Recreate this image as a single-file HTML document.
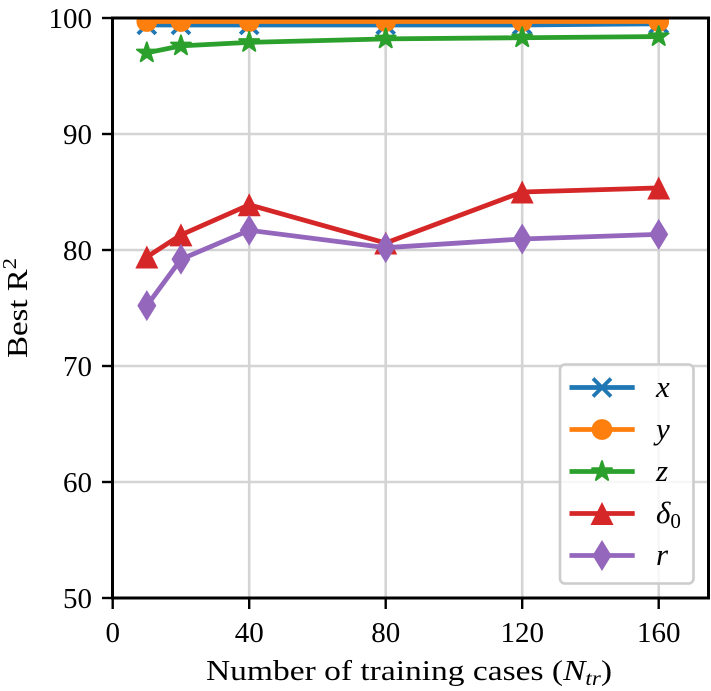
<!DOCTYPE html>
<html lang="en">
<head>
<meta charset="utf-8">
<title>Best R2 vs number of training cases</title>
<style>
html,body{margin:0;padding:0;background:#fff;}
svg{display:block;font-family:"Liberation Serif",serif;fill:#000;}
</style>
</head>
<body>
<svg id="chart" xmlns="http://www.w3.org/2000/svg" width="711" height="691" viewBox="0 0 711 691">
  <defs><clipPath id="plot-clip"><rect x="112.5" y="18" width="596" height="580"/></clipPath></defs>
  <rect width="711" height="691" fill="#fff"/>
  <g id="grid"></g>
  <g id="series" clip-path="url(#plot-clip)"></g>
  <rect x="112.5" y="18" width="596" height="580" fill="none" stroke="#000" stroke-width="3"/>
  <g id="ticks"></g>
  <g id="legend">
    <rect x="560" y="364.5" width="133.5" height="219" rx="5" fill="#fff" fill-opacity="0.8" stroke="#cccccc" stroke-width="2.6"/>
  </g>
  <text x="409" y="680" font-size="29" text-anchor="middle" textLength="406" lengthAdjust="spacingAndGlyphs">Number of training cases (<tspan font-style="italic">N</tspan><tspan font-style="italic" font-size="20" dy="5">tr</tspan><tspan dy="-5">)</tspan></text>
  <text transform="translate(27,358) rotate(-90)" font-size="29" textLength="100" lengthAdjust="spacingAndGlyphs">Best R<tspan font-size="20" dy="-11">2</tspan></text>
</svg>
<script>
const categories = [10, 20, 40, 80, 120, 160];
const seriesX = [99.4, 99.4, 99.4, 99.4, 99.4, 99.5];
const seriesY = [99.7, 99.7, 99.7, 99.7, 99.7, 99.7];
const seriesZ = [97.0, 97.6, 97.9, 98.2, 98.3, 98.4];
const seriesDelta = [79.4, 81.3, 83.9, 80.6, 85.0, 85.35];
const seriesR = [75.2, 79.2, 81.7, 80.2, 80.95, 81.35];
const xTickLabels = [0, 40, 80, 120, 160];
const yTickLabels = [50, 60, 70, 80, 90, 100];

const NS = 'http://www.w3.org/2000/svg';
const xScale = v => 112.7 + (v - 0) * 3.4125;
const yScale = v => 598 - (v - 50) * 11.6;

function make(tag, attrs, parent) {
  const el = document.createElementNS(NS, tag);
  for (const k in attrs) el.setAttribute(k, attrs[k]);
  parent.appendChild(el);
  return el;
}

function starPoints(cx, cy, r) {
  const pts = [];
  for (let i = 0; i < 10; i++) {
    const rad = i % 2 ? r * 0.382 : r;
    const a = -Math.PI / 2 + i * Math.PI / 5;
    pts.push((cx + rad * Math.cos(a)).toFixed(2) + ',' + (cy + rad * Math.sin(a)).toFixed(2));
  }
  return pts.join(' ');
}

function drawMarker(kind, cx, cy, color, parent) {
  if (kind === 'x') {
    return make('path', {d: `M${cx-9} ${cy-9}L${cx+9} ${cy+9}M${cx-9} ${cy+9}L${cx+9} ${cy-9}`, fill: 'none', stroke: color, 'stroke-width': 3.8}, parent);
  }
  if (kind === 'circle') {
    return make('circle', {cx: cx, cy: cy, r: 10.4, fill: color}, parent);
  }
  if (kind === 'star') {
    return make('polygon', {points: starPoints(cx, cy, 10.4), fill: color, stroke: color, 'stroke-width': 2, 'stroke-linejoin': 'round'}, parent);
  }
  if (kind === 'triangle') {
    return make('polygon', {points: `${cx},${cy-11.5} ${cx-11.5},${cy+11.5} ${cx+11.5},${cy+11.5}`, fill: color}, parent);
  }
  return make('polygon', {points: `${cx},${cy-15.5} ${cx-9.5},${cy} ${cx},${cy+15.5} ${cx+9.5},${cy}`, fill: color}, parent);
}

const grid = document.getElementById('grid');
const ticks = document.getElementById('ticks');
const seriesGroup = document.getElementById('series');
const legend = document.getElementById('legend');

xTickLabels.forEach(v => {
  const gl = make('line', {x1: xScale(v), x2: xScale(v), y1: 18, y2: 598, stroke: '#d4d4d4', 'stroke-width': 2.6}, grid);
  
  
  const t = make('line', {x1: xScale(v), x2: xScale(v), y1: 598, y2: 609, stroke: '#000', 'stroke-width': 2.4}, ticks);
  
  
  const lbl = make('text', {x: xScale(v), y: 642, 'font-size': 29, 'text-anchor': 'middle'}, ticks);
  
  
  lbl.textContent = v;
});

yTickLabels.forEach(v => {
  const gl = make('line', {x1: 112.5, x2: 708.5, y1: yScale(v), y2: yScale(v), stroke: '#d4d4d4', 'stroke-width': 2.6}, grid);
  
  
  const t = make('line', {x1: 102, x2: 112.5, y1: yScale(v), y2: yScale(v), stroke: '#000', 'stroke-width': 2.4}, ticks);
  
  
  const lbl = make('text', {x: 92, y: yScale(v) + 10, 'font-size': 29, 'text-anchor': 'end'}, ticks);
  
  
  lbl.textContent = v;
});

const seriesList = [
  {key: 'x', values: seriesX, color: '#1f77b4', marker: 'x', ly: 387.5},
  {key: 'y', values: seriesY, color: '#ff7f0e', marker: 'circle', ly: 429.5},
  {key: 'z', values: seriesZ, color: '#2ca02c', marker: 'star', ly: 471.5},
  {key: 'delta0', values: seriesDelta, color: '#d62728', marker: 'triangle', ly: 513.5},
  {key: 'r', values: seriesR, color: '#9467bd', marker: 'diamond', ly: 555.5}
];

seriesList.forEach(s => {
  const g = make('g', {}, seriesGroup);
  
  
  const line = make('polyline', {
    points: s.values.map((v, i) => xScale(categories[i]) + ',' + yScale(v)).join(' '),
    fill: 'none', stroke: s.color, 'stroke-width': 4.8, 'stroke-linejoin': 'round'
  }, g);
  
  
  s.values.forEach((v, i) => {
    const m = drawMarker(s.marker, xScale(categories[i]), yScale(v), s.color, g);
    
    
  });

  const entry = make('g', {}, legend);
  
  
  const hl = make('line', {x1: 569.5, x2: 634.7, y1: s.ly, y2: s.ly, stroke: s.color, 'stroke-width': 4.8}, entry);
  
  
  const hm = drawMarker(s.marker, 602, s.ly, s.color, entry);
  
  
  const txt = make('text', {x: 656, y: s.ly + 9.5, 'font-size': 31, 'font-style': 'italic'}, entry);
  
  
  if (s.key === 'delta0') {
    txt.textContent = 'δ';
    const sub = make('tspan', {'font-size': 21, 'font-style': 'normal', dy: 5}, txt);
    sub.textContent = '0';
  } else {
    txt.textContent = s.key;
  }
});
</script>
</body>
</html>
